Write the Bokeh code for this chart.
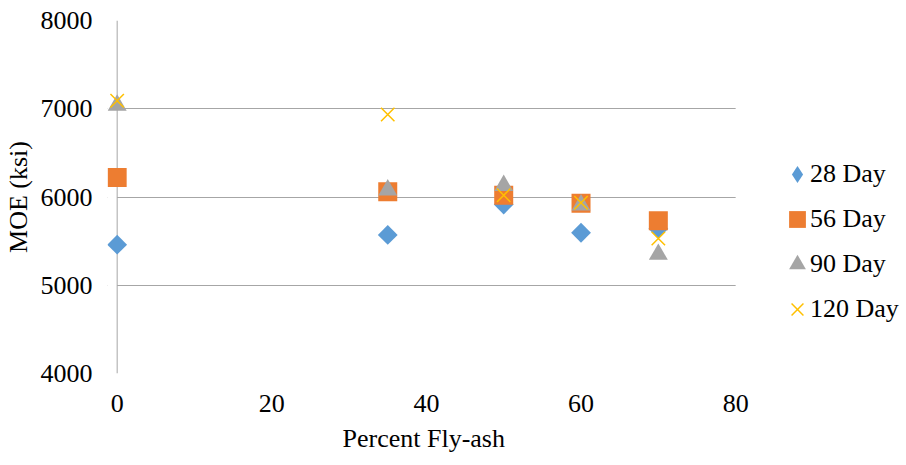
import math

from bokeh.plotting import figure
from bokeh.models import (Range1d, Legend, LegendItem, Span, BoxAnnotation,
                          FixedTicker, Title)
from bokeh.embed import file_html
from bokeh.resources import INLINE

# Modulus of elasticity (ksi) by fly-ash replacement and curing age
fly_ash = [0, 35, 50, 60, 70]
moe_28 = [5460, 5570, 5915, 5595, 5640]
moe_56 = [6220, 6060, 6020, 5930, 5730]
moe_90 = [7040, 6080, 6130, 5910, 5350]
moe_120 = [7090, 6935, 6020, 5935, 5530]

series_names = ["28 Day", "56 Day", "90 Day", "120 Day"]
x_ticks = [0, 20, 40, 60, 80]
y_ticks = [4000, 5000, 6000, 7000, 8000]
x_min, x_max = 0, 80

FONT = "Liberation Serif"
FS = "26px"
GRID = "#A6A6A6"

# the frame runs on to the right edge so the legend can sit inside it
p = figure(width=906, height=465, output_backend="svg", toolbar_location=None,
           x_range=Range1d(-1.25, 102.1), y_range=Range1d(4000, 8000),
           min_border_left=107, min_border_right=0,
           min_border_top=20, min_border_bottom=92)
p.outline_line_color = None
p.background_fill_color = "white"
p.border_fill_color = "white"

p.xgrid.visible = False
p.ygrid.grid_line_color = GRID
p.ygrid.grid_line_width = 1

for ax, ticks in ((p.xaxis[0], x_ticks), (p.yaxis[0], y_ticks)):
    ax.ticker = FixedTicker(ticks=ticks)
    ax.axis_line_color = None
    ax.major_tick_line_color = None
    ax.minor_tick_line_color = None
    ax.major_tick_out = 0
    ax.major_tick_in = 0
    ax.minor_tick_out = 0
    ax.major_label_text_font = FONT
    ax.major_label_text_font_size = FS
    ax.major_label_text_color = "black"
    ax.axis_label_text_font = FONT
    ax.axis_label_text_font_size = FS
    ax.axis_label_text_font_style = "normal"
    ax.axis_label_text_color = "black"

p.xaxis.major_label_standoff = 21
p.yaxis.axis_label = "MOE (ksi)"
p.yaxis.major_label_standoff = 15
p.yaxis.axis_label_standoff = 5

# x title centred under the 0-80 span rather than the whole frame
p.add_layout(Title(text="Percent Fly-ash", align="left", offset=235, standoff=14,
                   text_font=FONT, text_font_size=FS, text_font_style="normal",
                   text_color="black"), "below")

# gridlines only between x = 0 and x = 80, value axis line at x = 0
p.add_layout(BoxAnnotation(right=x_min, fill_color="white", fill_alpha=1,
                           line_color=None, level="underlay"))
p.add_layout(BoxAnnotation(left=x_max, fill_color="white", fill_alpha=1,
                           line_color=None, level="underlay"))
p.add_layout(Span(location=x_min, dimension="height", line_color=GRID,
                  line_width=1, level="underlay"))

r28 = p.scatter(fly_ash, moe_28, marker="square", angle=math.pi / 4, size=14,
                fill_color="#5B9BD5", line_color=None)
r56 = p.scatter(fly_ash, moe_56, marker="square", size=19,
                fill_color="#ED7D31", line_color=None)
r90 = p.scatter(fly_ash, moe_90, marker="triangle", size=19,
                fill_color="#A5A5A5", line_color=None)
r120 = p.scatter(fly_ash, moe_120, marker="x", size=19,
                 line_color="#FFC000", line_width=1.5)

# legend swatch for the diamond series (legend glyphs are drawn unrotated)
key28 = p.scatter([float("nan")], [float("nan")], marker="diamond", size=19,
                  fill_color="#5B9BD5", line_color=None)


def style_legend(lg, glyph_w):
    lg.background_fill_alpha = 0
    lg.border_line_color = None
    lg.padding = 0
    lg.margin = 0
    lg.spacing = 3
    lg.glyph_width = glyph_w
    lg.glyph_height = 42
    lg.label_height = 42
    lg.label_standoff = 0
    lg.label_text_font = FONT
    lg.label_text_font_size = FS
    lg.label_text_color = "black"


# swatch column and label column are laid out separately
keys = Legend(items=[LegendItem(label=" ", renderers=[r])
                     for r in (key28, r56, r90, r120)],
              location=(669, 43))
style_legend(keys, 42)
names = Legend(items=[LegendItem(label=n, renderers=[r])
                      for n, r in zip(series_names, (r28, r56, r90, r120))],
               location=(703, 43))
style_legend(names, 0)
p.add_layout(keys)
p.add_layout(names)

open("out.html", "w").write(file_html(p, INLINE))
